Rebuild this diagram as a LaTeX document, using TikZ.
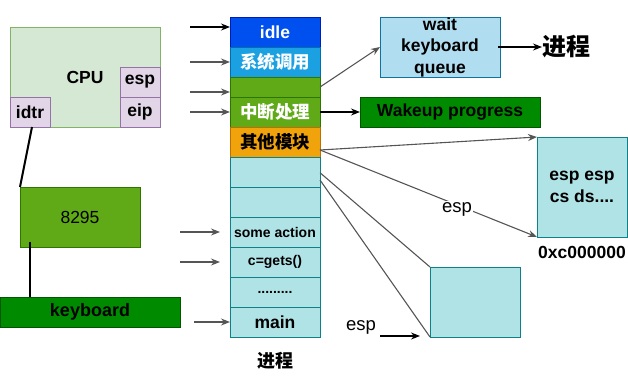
\documentclass[tikz,border=0pt]{standalone}
\usepackage{fontspec}
\setmainfont{Liberation Sans}
\newfontfamily\cjk{Noto Sans CJK SC}
\usetikzlibrary{arrows.meta}
\definecolor{cpuF}{HTML}{D5E8D4}\definecolor{cpuD}{HTML}{82B366}
\definecolor{regF}{HTML}{E1D5E7}\definecolor{regD}{HTML}{9673A6}
\definecolor{lgF}{HTML}{60A917}\definecolor{lgD}{HTML}{2D7600}
\definecolor{dgF}{HTML}{008A00}\definecolor{dgD}{HTML}{005700}
\definecolor{blF}{HTML}{0050EF}\definecolor{blD}{HTML}{001DBC}
\definecolor{skF}{HTML}{1BA1E2}\definecolor{skD}{HTML}{006EAF}
\definecolor{orF}{HTML}{F0A30A}\definecolor{orD}{HTML}{BD7000}
\definecolor{cyF}{HTML}{B0E3E6}\definecolor{cyD}{HTML}{0E8088}
\definecolor{qF}{HTML}{B1DDF0}\definecolor{qD}{HTML}{10739E}
\definecolor{conn}{HTML}{555555}
\begin{document}
\begin{tikzpicture}[x=1pt,y=-1pt,
  box/.style={draw, line width=0.9pt, inner sep=0pt, outer sep=0pt, anchor=north west, align=center,
              font=\fontsize{17.5}{21.5}\selectfont\bfseries},
  cpubox/.style={box, fill=cpuF, draw=cpuD},
  regbox/.style={box, fill=regF, draw=regD, minimum width=40pt, minimum height=30pt},
  lgbox/.style={box, fill=lgF, draw=lgD},
  dgbox/.style={box, fill=dgF, draw=dgD},
  cybox/.style={box, fill=cyF, draw=cyD},
  row/.style={minimum width=90pt, minimum height=30pt},
  small/.style={font=\fontsize{14}{16}\selectfont\bfseries},
  arr/.style={-{Stealth[length=9pt,width=7pt,inset=3pt]}, line width=1.1pt},
  garr/.style={arr, draw=conn},
  gline/.style={draw=conn, line width=1.1pt},
  lbl/.style={inner sep=1pt, font=\fontsize{18.5}{20}\selectfont}
]
\useasboundingbox (0,0) rectangle (628,388);

% CPU
\node[cpubox, minimum width=150pt, minimum height=100pt] (cpu) at (10,27) {CPU};
\node[regbox] (esp) at (120,67) {esp};
\node[regbox] (eip) at (120,97) {eip};
\node[regbox] (idtr) at (10,97) {idtr};

% 8295 and keyboard
\node[lgbox, minimum width=120pt, minimum height=60pt, font=\fontsize{17.5}{21}\selectfont] (chip) at (20,187) {8295};
\node[dgbox, minimum width=180pt, minimum height=30pt, font=\fontsize{18}{21}\selectfont\bfseries] (kbd) at (0,297) {keyboard};
\coordinate (idtrbot) at (32,127);
\draw[line width=2pt] (idtrbot) -- (chip.north west);
\coordinate (chipin) at (30,242);
\draw[line width=2.5pt] (chipin) -- (chipin |- kbd.north);

% process stack
\node[box, row, fill=blF, draw=blD, text=white] (idle) at (230,17) {idle};
\node[box, row, fill=skF, draw=skD, text=white] (sys) at (230,47) {\cjk 系统调用};
\node[lgbox, minimum width=90pt, minimum height=20pt] (g1) at (230,77) {};
\node[lgbox, row, text=white] (irq) at (230,97) {\cjk 中断处理};
\node[box, row, fill=orF, draw=orD] (other) at (230,127) {\cjk 其他模块};
\node[cybox, row] (c1) at (230,157) {};
\node[cybox, row] (c2) at (230,187) {};
\node[cybox, row, small] (act) at (230,217) {some action};
\node[cybox, row, small] (gets) at (230,247) {c=gets()};
\node[cybox, row, small] (dots) at (230,277) {.........};
\node[cybox, row] (main) at (230,307) {main};
\node[font=\fontsize{18}{20}\selectfont\bfseries\cjk] (proc) at (275,361) {进程};

% arrows into the stack
\coordinate (s1) at (190,27);
\coordinate (s2) at (190,62);
\coordinate (s3) at (190,92);
\coordinate (s4) at (190,112);
\draw[arr] (s1) -- (s1 -| idle.west);
\draw[garr] (s2) -- (s2 -| sys.west);
\draw[garr] (s3) -- (s3 -| g1.west);
\draw[garr] (s4) -- (s4 -| irq.west);
\coordinate (t1) at (180,232); \coordinate (t1e) at (220,232);
\coordinate (t2) at (180,262); \coordinate (t2e) at (220,262);
\draw[garr] (t1) -- (t1e);
\draw[garr] (t2) -- (t2e);
\coordinate (m0) at (194,322);
\draw[garr] (m0) -- (main.west);

% wait queue
\node[box, fill=qF, draw=qD, minimum width=120pt, minimum height=60pt] (wait) at (380,17) {wait\\keyboard\\queue};
\node[font=\fontsize{24}{26}\selectfont\bfseries\cjk, anchor=west, inner sep=0pt] (proc2) at (542,47) {进程};
\draw[garr] (g1.east) -- (wait.west);
\coordinate (w1) at (498,47);
\draw[arr] (w1) -- (proc2.west);

% wakeup
\node[dgbox, minimum width=180pt, minimum height=30pt] (wake) at (360,97) {Wakeup progress};
\draw[arr] (irq.east) -- (wake.west);

% esp box
\node[cybox, minimum width=90pt, minimum height=100pt] (espbox) at (537,137) {esp esp\\cs ds....};
\node[font=\fontsize{17.5}{20}\selectfont\bfseries] (addr) at (582,252) {0xc000000};
\coordinate (o1) at (320,150);
\draw[garr] (o1) -- (espbox.north west);
\draw[garr] (o1) -- (espbox.south west);
\node[lbl, fill=white] (esplbl) at (457,209) {esp};

% lower square
\node[cybox, minimum width=90pt, minimum height=70pt] (sq) at (430,267) {};
\coordinate (o2) at (320,172.7);
\coordinate (o3) at (320,180);
\draw[gline] (o2) -- (sq.north west);
\draw[gline] (o3) -- (sq.south west);
\node[lbl] (esp2) at (361,327) {esp};
\coordinate (e2) at (380,336);
\coordinate (e2t) at (420,336);
\draw[arr] (e2) -- (e2t);
\end{tikzpicture}
\end{document}
